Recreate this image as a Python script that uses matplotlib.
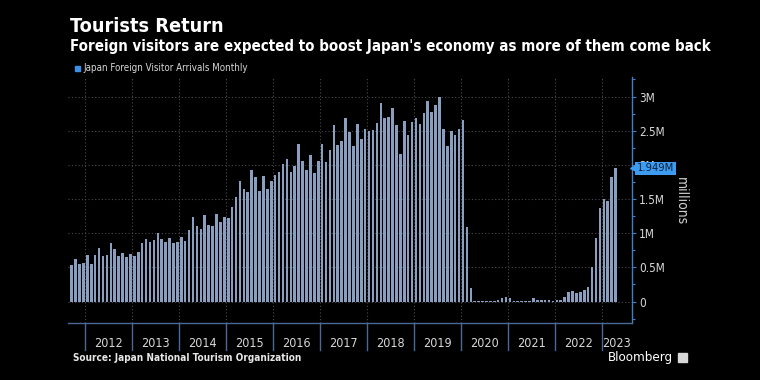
import matplotlib
matplotlib.use("Agg")
import matplotlib.pyplot as plt
import matplotlib.transforms as mtransforms
from matplotlib.patches import Rectangle
import numpy as np

plt.rcParams['font.family'] = ['DejaVu Sans']
plt.rcParams['font.stretch'] = 'condensed'

# Monthly arrivals (millions), Sep 2011 .. Apr 2023
start_year, start_month = 2011, 9
arrivals = [
    # 2011 Sep-Dec
    0.54, 0.62, 0.55, 0.57,
    # 2012
    0.68, 0.55, 0.68, 0.78, 0.67, 0.68, 0.85, 0.77, 0.66, 0.71, 0.65, 0.69,
    # 2013
    0.67, 0.73, 0.86, 0.92, 0.87, 0.90, 1.00, 0.91, 0.87, 0.93, 0.85, 0.87,
    # 2014
    0.94, 0.88, 1.05, 1.24, 1.10, 1.06, 1.27, 1.12, 1.10, 1.28, 1.16, 1.24,
    # 2015
    1.22, 1.39, 1.53, 1.77, 1.64, 1.60, 1.92, 1.82, 1.62, 1.83, 1.65, 1.77,
    # 2016
    1.85, 1.89, 2.01, 2.08, 1.89, 1.99, 2.30, 2.05, 1.92, 2.14, 1.88, 2.05,
    # 2017
    2.30, 2.04, 2.21, 2.58, 2.29, 2.35, 2.68, 2.48, 2.28, 2.60, 2.38, 2.52,
    # 2018
    2.50, 2.51, 2.61, 2.90, 2.68, 2.70, 2.83, 2.58, 2.16, 2.64, 2.44, 2.63,
    # 2019
    2.69, 2.60, 2.76, 2.93, 2.77, 2.88, 2.99, 2.52, 2.27, 2.50, 2.44, 2.53,
    # 2020
    2.66, 1.085, 0.194, 0.003, 0.002, 0.003, 0.004, 0.009, 0.014, 0.028, 0.057, 0.059,
    # 2021
    0.046, 0.007, 0.012, 0.011, 0.010, 0.010, 0.051, 0.026, 0.018, 0.022, 0.021, 0.012,
    # 2022
    0.017, 0.017, 0.066, 0.140, 0.148, 0.121, 0.144, 0.170, 0.207, 0.499, 0.935, 1.372,
    # 2023
    1.497, 1.475, 1.818, 1.949,
]
years = list(range(2012, 2024))
y_ticks = [0, 0.5, 1, 1.5, 2, 2.5, 3]
y_tick_labels = ["0", "0.5M", "1M", "1.5M", "2M", "2.5M", "3M"]
last_label = "1.949M"

W, H = 760, 380
fig = plt.figure(figsize=(W / 100, H / 100), dpi=100, facecolor='black')

def fx(px):
    return px / W

def fy(py):
    return 1 - py / H

ax_l, ax_r, ax_t, ax_b = 68, 632, 76.7, 322.7
ax = fig.add_axes([fx(ax_l), fy(ax_b), fx(ax_r - ax_l), (ax_b - ax_t) / H])
ax.set_facecolor('black')

n = len(arrivals)
x = np.arange(n)
ax.bar(x, arrivals, width=0.66, color='#8a9ec0', zorder=3)

ax.set_xlim(-0.95, 143.2)
ax.set_ylim(-0.31, 3.29)

# grid
for t in y_ticks:
    ax.axhline(t, color='#4a4a4a', lw=0.8, ls=(0, (1, 2)), zorder=1)
boundaries = [3.5 + 12 * (yr - 2012) for yr in years]
for b in boundaries:
    ax.axvline(b, color='#4a4a4a', lw=0.8, ls=(0, (1, 2)), zorder=1)

# spines
for s in ['top', 'left']:
    ax.spines[s].set_visible(False)
ax.spines['right'].set_color('#3f7fc6')
ax.spines['right'].set_linewidth(1.0)
ax.spines['bottom'].set_color('#4a6a96')
ax.spines['bottom'].set_linewidth(1.0)

ax.yaxis.tick_right()
ax.set_yticks(y_ticks)
ax.set_yticklabels(y_tick_labels)
ax.set_yticks(np.arange(-0.25, 3.26, 0.25), minor=True)
ax.tick_params(axis='y', which='major', colors='#3f7fc6', length=3, width=0.8,
               labelcolor='#d8d8d8', labelsize=8.5, pad=2)
ax.tick_params(axis='y', which='minor', colors='#3f7fc6', length=2, width=0.8)
ax.set_xticks([])

# year separators and labels below axis
trans = mtransforms.blended_transform_factory(ax.transData, ax.transAxes)
sep_len = (350 - ax_b) / (ax_b - ax_t)
for b in boundaries:
    ax.plot([b, b], [0, -sep_len], transform=trans, color='#4a6a96', lw=1.0,
            clip_on=False)
for i, yr in enumerate(years):
    left = boundaries[i]
    right = boundaries[i + 1] if i + 1 < len(boundaries) else 143.2
    ax.text((left + right) / 2, -(343.5 - ax_b) / (ax_b - ax_t), str(yr),
            transform=trans, ha='center', va='center', color='#d8d8d8',
            fontsize=9)

# last value box
trans_r = mtransforms.blended_transform_factory(ax.transAxes, ax.transData)
ax.text(1.009, arrivals[-1], last_label, transform=trans_r,
        ha='left', va='center', color='#0b1f3a', fontsize=8, zorder=10,
        clip_on=False,
        bbox=dict(boxstyle='square,pad=0.15', fc='#3d9bf0', ec='none'))
ax.plot([1.004], [arrivals[-1]], marker='<', ms=5.5, color='#3d9bf0',
        transform=trans_r, clip_on=False, zorder=10)

# millions label
fig.text(fx(681), fy(201), 'millions', rotation=270, ha='center', va='center',
         color='#d0d0d0', fontsize=10)

# titles
fig.text(fx(70), fy(27), 'Tourists Return', ha='left', va='center',
         color='white', fontsize=14.2, fontweight='bold')
fig.text(fx(70), fy(47), "Foreign visitors are expected to boost Japan's economy as more of them come back",
         ha='left', va='center', color='white', fontsize=10.8, fontweight='bold')

# legend
fig.patches.append(Rectangle((fx(75), fy(70.5)), fx(5), 4.8 / H,
                             transform=fig.transFigure, color='#3d8fe6'))
fig.text(fx(83), fy(68.3), 'Japan Foreign Visitor Arrivals Monthly', ha='left',
         va='center', color='#d8d8d8', fontsize=7)

# source and brand
fig.text(fx(73), fy(358), 'Source: Japan National Tourism Organization',
         ha='left', va='center', color='#e8e8e8', fontsize=7.2, fontweight='bold')
fig.text(fx(673), fy(357), 'Bloomberg', ha='right', va='center', color='white',
         fontsize=9.5)
fig.patches.append(Rectangle((fx(678), fy(361.5)), fx(9), 9 / H,
                             transform=fig.transFigure, color='#d8d8d8'))

fig.savefig('out.png', dpi=100, facecolor='black')
